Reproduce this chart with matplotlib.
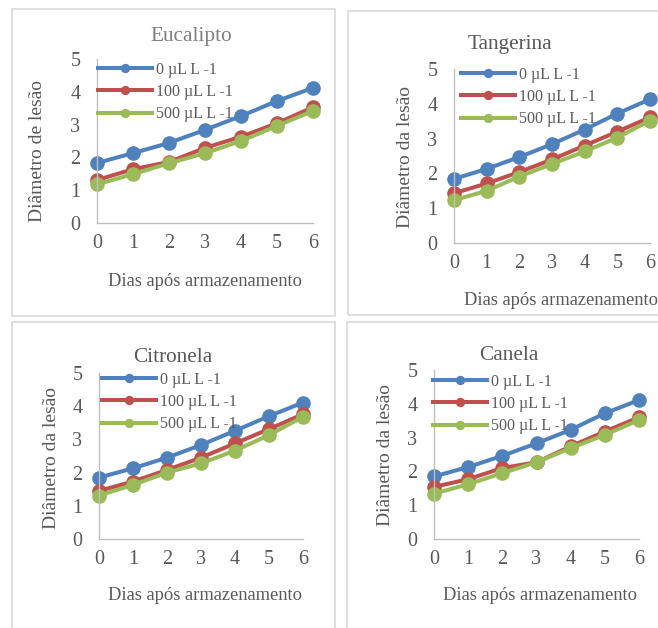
import matplotlib.pyplot as plt
from matplotlib.patches import Rectangle

plt.rcParams['font.family'] = ['Liberation Serif', 'DejaVu Serif']

# === DADOS ===
dias = [0, 1, 2, 3, 4, 5, 6]
doses = ['0 µL L -1', '100 µL L -1', '500 µL L -1']

eucalipto_0 = [1.83, 2.13, 2.44, 2.84, 3.26, 3.72, 4.12]
eucalipto_100 = [1.31, 1.64, 1.86, 2.29, 2.63, 3.04, 3.53]
eucalipto_500 = [1.18, 1.49, 1.82, 2.13, 2.50, 2.96, 3.42]

tangerina_0 = [1.84, 2.13, 2.47, 2.84, 3.26, 3.72, 4.13]
tangerina_100 = [1.43, 1.71, 2.04, 2.40, 2.80, 3.20, 3.61]
tangerina_500 = [1.23, 1.50, 1.91, 2.27, 2.63, 3.03, 3.52]

citronela_0 = [1.85, 2.13, 2.45, 2.83, 3.26, 3.70, 4.11]
citronela_100 = [1.45, 1.73, 2.08, 2.45, 2.88, 3.31, 3.76]
citronela_500 = [1.31, 1.63, 2.00, 2.28, 2.66, 3.13, 3.68]

canela_0 = [1.85, 2.13, 2.46, 2.83, 3.23, 3.72, 4.11]
canela_100 = [1.54, 1.77, 2.10, 2.27, 2.74, 3.18, 3.60]
canela_500 = [1.34, 1.62, 1.95, 2.27, 2.69, 3.08, 3.52]

cores = ['#4F81BD', '#C0504D', '#9BBB59']

W, H = 658, 628
fig = plt.figure(figsize=(W / 100, H / 100), dpi=100)


def fx(x):
    return x / W


def fy(y):
    return 1 - y / H


# painel: caixa e eixos em px (left, top, right, bottom); posicoes de textos em px
paineis = [
    dict(titulo='Eucalipto', ylabel='Diâmetro de lesão', cor_titulo='#7F7F7F',
         series=[eucalipto_0, eucalipto_100, eucalipto_500],
         caixa=(12, 9, 335, 316), eixo=(97, 59, 313, 223),
         pos_titulo=(191, 36), pos_ylabel=(38, 151), pos_xlabel=(205, 282),
         pos_leg=(98, 62)),
    dict(titulo='Tangerina', ylabel='Diâmetro da lesão', cor_titulo='#595959',
         series=[tangerina_0, tangerina_100, tangerina_500],
         caixa=(348, 11, 680, 315), eixo=(454, 69, 650, 243),
         pos_titulo=(510, 45), pos_ylabel=(406, 157), pos_xlabel=(561, 300),
         pos_leg=(461, 67)),
    dict(titulo='Citronela', ylabel='Diâmetro da lesão', cor_titulo='#595959',
         series=[citronela_0, citronela_100, citronela_500],
         caixa=(12, 322, 335, 650), eixo=(99, 373, 303, 539),
         pos_titulo=(173, 357), pos_ylabel=(52, 458), pos_xlabel=(205, 596),
         pos_leg=(102, 372)),
    dict(titulo='Canela', ylabel='Diâmetro da lesão', cor_titulo='#595959',
         series=[canela_0, canela_100, canela_500],
         caixa=(347, 322, 680, 650), eixo=(434, 370, 639, 539),
         pos_titulo=(509, 356), pos_ylabel=(386, 455), pos_xlabel=(540, 596),
         pos_leg=(433, 374)),
]

for p in paineis:
    # caixa do grafico
    x0, y0, x1, y1 = p['caixa']
    fig.patches.append(Rectangle((fx(x0), fy(y1)), fx(x1) - fx(x0), fy(y0) - fy(y1),
                                 transform=fig.transFigure, fill=False,
                                 edgecolor='#D9D9D9', linewidth=1.2))

    l, t, r, b = p['eixo']
    ax = fig.add_axes([fx(l), fy(b), fx(r) - fx(l), fy(t) - fy(b)])
    ax.patch.set_alpha(0)

    for serie, cor, dose in zip(p['series'], cores, doses):
        ax.plot(dias, serie, color=cor, linewidth=2.9, marker='o', markersize=9.5,
                label=dose, clip_on=False)

    ax.set_xlim(0, 6)
    ax.set_ylim(0, 5)
    ax.set_xticks(dias)
    ax.set_yticks(range(6))
    ax.tick_params(length=0, labelsize=14.5, labelcolor='#595959')
    ax.tick_params(axis='x', pad=8)
    ax.tick_params(axis='y', pad=12)
    for s in ['top', 'right']:
        ax.spines[s].set_visible(False)
    for s in ['left', 'bottom']:
        ax.spines[s].set_color('#BFBFBF')
        ax.spines[s].set_linewidth(1.0)

    def axc(px, py):
        return (px - l) / (r - l), (b - py) / (b - t)

    tx, ty = axc(*p['pos_titulo'])
    ax.set_title(p['titulo'], x=tx, y=ty, va='center', fontsize=15.3, pad=0,
                 color=p['cor_titulo'])

    ax.set_ylabel(p['ylabel'], fontsize=14, color='#595959', va='center')
    ax.yaxis.set_label_coords(*axc(*p['pos_ylabel']))
    ax.set_xlabel('Dias após armazenamento', fontsize=13.3, color='#595959',
                  va='center')
    ax.xaxis.set_label_coords(*axc(*p['pos_xlabel']))

    lx, ly = p['pos_leg']
    ax.legend(loc='upper left', bbox_to_anchor=(fx(lx), fy(ly)),
              bbox_transform=fig.transFigure, frameon=False, fontsize=11.5,
              labelcolor='#595959', borderpad=0, borderaxespad=0,
              handlelength=3.4, handletextpad=0.25, labelspacing=0.38,
              markerscale=0.6)

plt.savefig('out.png', dpi=100)
